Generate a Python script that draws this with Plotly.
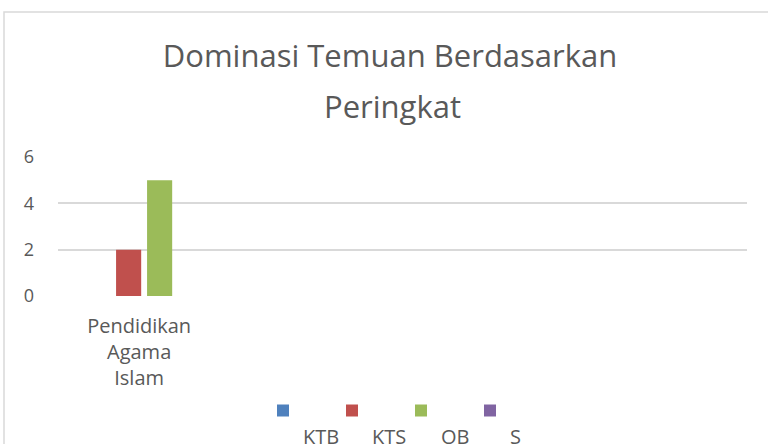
import plotly.graph_objects as go

categories = ["Pendidikan Agama Islam", "", "", ""]
tick_labels = ["Pendidikan<br>Agama<br>Islam", "", "", ""]
series_names = ["KTB", "KTS", "OB", "S"]
ktb = [0, None, None, None]
kts = [2, None, None, None]
ob = [5, None, None, None]
s_vals = [0, None, None, None]
series_values = [ktb, kts, ob, s_vals]
colors = ["#4F81BD", "#C0504D", "#9BBB59", "#8064A2"]
y_ticks = [0, 2, 4, 6]
title_line1 = "Dominasi Temuan Berdasarkan"
title_line2 = "Peringkat"

W, H = 768, 444
L, R, T, B = 58, 21, 157, 148
pw = W - L - R
ph = H - T - B


def py(pix):
    """window pixel row -> paper y"""
    return (H - B - pix) / ph


x_pos = list(range(len(categories)))

fig = go.Figure()
for name, vals, col in zip(series_names, series_values, colors):
    fig.add_trace(go.Bar(
        x=x_pos, y=vals, name="<br><br>" + name, marker_color=col,
        marker_line_width=0, hoverinfo="skip"
    ))

fig.update_layout(
    width=W, height=H,
    margin=dict(l=L, r=R, t=T, b=B, autoexpand=False),
    paper_bgcolor="white", plot_bgcolor="white",
    barmode="group", bargap=0.28, bargroupgap=0.19,
    font=dict(family="Open Sans", color="#595959"),
    title=dict(
        text=title_line1,
        x=390 / W, xanchor="center", xref="container",
        y=1 - 45 / H, yanchor="top", yref="container",
        font=dict(size=31, color="#595959", family="Open Sans"),
    ),
    annotations=[dict(
        text=title_line2, xref="paper", yref="paper",
        x=(392 - L) / pw, xanchor="center", y=py(83), yanchor="top",
        showarrow=False, font=dict(size=31, color="#595959", family="Open Sans"),
    )],
    xaxis=dict(
        range=[-0.5, len(categories) - 0.5],
        tickmode="array", tickvals=x_pos, ticktext=tick_labels,
        showgrid=False, zeroline=False, showline=False, ticks="",
        tickfont=dict(size=20, color="#595959"),
        ticklabelstandoff=16, ticklabelshift=-5,
        fixedrange=True,
    ),
    yaxis=dict(
        range=[0, 6], tickvals=y_ticks,
        showgrid=True, gridcolor="#D9D9D9", gridwidth=1.5,
        zeroline=False, showline=False, ticks="",
        ticklabelstandoff=23,
        tickfont=dict(size=18, color="#595959"),
        fixedrange=True,
    ),
    legend=dict(
        orientation="h", x=(263 - L) / pw, xanchor="left",
        y=py(365), yanchor="top",
        font=dict(size=20, color="#595959"),
        itemwidth=30, tracegroupgap=0,
        entrywidth=24, entrywidthmode="pixels",
        bgcolor="rgba(0,0,0,0)",
    ),
    showlegend=True,
    shapes=[dict(
        type="rect", xref="paper", yref="paper",
        x0=(4 - L) / pw, x1=(790 - L) / pw,
        y0=py(470), y1=py(12),
        line=dict(color="#D9D9D9", width=1.5), fillcolor="rgba(0,0,0,0)",
        layer="below",
    )],
)

fig.write_html("out.html", post_script="document.body.style.margin='0';",
               config={"displayModeBar": False})
